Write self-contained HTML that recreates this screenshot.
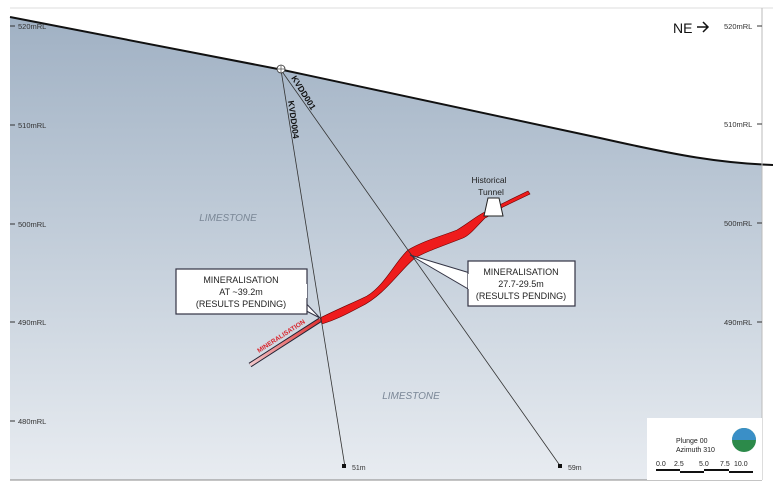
<!DOCTYPE html>
<html><head><style>
body{margin:0;background:#fff;}
svg{display:block;font-family:"Liberation Sans",sans-serif;}
</style></head><body>
<svg width="773" height="488" viewBox="0 0 773 488">
<defs>
<linearGradient id="bg" x1="0" y1="0" x2="0" y2="1">
<stop offset="0" stop-color="#9fb0c3"/>
<stop offset="0.5" stop-color="#c3ceda"/>
<stop offset="1" stop-color="#e8ecf1"/>
</linearGradient>
<linearGradient id="mz" x1="0" y1="0" x2="1" y2="0">
<stop offset="0" stop-color="#f2c9cc"/><stop offset="1" stop-color="#e03030"/>
</linearGradient>
</defs>
<rect x="10" y="8" width="752" height="472" fill="url(#bg)"/>
<path d="M10,17 L283,70 C400,95 520,120 600,138 C680,156 720,163 773,165 L773,0 L10,0 Z" fill="#fff"/>
<rect x="0" y="0" width="10" height="488" fill="#fff"/>
<rect x="762" y="165" width="11" height="323" fill="#fff"/>
<rect x="0" y="480" width="773" height="8" fill="#fff"/>
<line x1="10" y1="8" x2="773" y2="8" stroke="#ddd"/>
<path d="M10,17 L283,70 C400,95 520,120 600,138 C680,156 720,163 773,165" fill="none" stroke="#111" stroke-width="2"/>
<line x1="10" y1="480" x2="762" y2="480" stroke="#888"/>
<line x1="762" y1="8" x2="762" y2="480" stroke="#bbb"/>
<g font-size="7.5" fill="#333">
<text x="18" y="29">520mRL</text><text x="18" y="128">510mRL</text><text x="18" y="227">500mRL</text><text x="18" y="325">490mRL</text><text x="18" y="424">480mRL</text>
<text x="724" y="29">520mRL</text><text x="724" y="127">510mRL</text><text x="724" y="226">500mRL</text><text x="724" y="325">490mRL</text>
</g>
<g stroke="#333"><line x1="10" y1="26" x2="15" y2="26"/><line x1="10" y1="125" x2="15" y2="125"/><line x1="10" y1="224" x2="15" y2="224"/><line x1="10" y1="322" x2="15" y2="322"/><line x1="10" y1="421" x2="15" y2="421"/>
<line x1="757" y1="26" x2="762" y2="26"/><line x1="757" y1="124" x2="762" y2="124"/><line x1="757" y1="223" x2="762" y2="223"/><line x1="757" y1="322" x2="762" y2="322"/></g>
<text x="673" y="33" font-size="14" fill="#111">NE</text>
<path d="M697,27 H708 M703,22 L708,27 L703,32" stroke="#111" stroke-width="1.5" fill="none"/>
<text x="228" y="221" font-size="10" font-style="italic" fill="#7a8796" text-anchor="middle">LIMESTONE</text>
<text x="411" y="399" font-size="10" font-style="italic" fill="#7a8796" text-anchor="middle">LIMESTONE</text>
<path d="M250,365 L320,320" stroke="#223" stroke-width="5"/>
<path d="M250,365 L320,320" stroke="url(#mz)" stroke-width="3"/>
<path d="M320,318 C340,308 355,302 367,296 C385,285 395,262 408,250 C425,240 445,235 457,230 C470,222 478,215 485,212 L528,191 L530,194 L503,207 C495,212 490,216 485,218 C475,228 470,235 463,238 C440,247 425,252 415,258 C400,270 385,295 360,307 C345,315 335,320 322,324 Z" fill="#ee1c1c" stroke="#600" stroke-width="0.6"/>
<text transform="translate(259,353) rotate(-33)" font-size="6.5" font-weight="bold" fill="#d9262e">MINERALISATION</text>
<path d="M488,198 L499,198 L503,216 L484,216 Z" fill="#fff" stroke="#222"/>
<text x="489" y="183" font-size="8.5" fill="#222" text-anchor="middle">Historical</text>
<text x="491" y="195" font-size="8.5" fill="#222" text-anchor="middle">Tunnel</text>
<line x1="281" y1="70" x2="345" y2="467" stroke="#333" stroke-width="0.8"/>
<line x1="281" y1="70" x2="561" y2="467" stroke="#333" stroke-width="0.8"/>
<circle cx="281" cy="69" r="4" fill="#fff" stroke="#333" stroke-width="0.8"/>
<line x1="277" y1="69" x2="285" y2="69" stroke="#333" stroke-width="0.6"/><line x1="281" y1="65" x2="281" y2="73" stroke="#333" stroke-width="0.6"/>
<text transform="translate(291,78) rotate(58)" font-size="8.5" font-weight="bold" fill="#111">KVDD001</text>
<text transform="translate(288,101) rotate(82)" font-size="8.5" font-weight="bold" fill="#111">KVDD004</text>
<rect x="342" y="464" width="4" height="4" fill="#111"/><text x="352" y="470" font-size="7" fill="#333">51m</text>
<rect x="558" y="464" width="4" height="4" fill="#111"/><text x="568" y="470" font-size="7" fill="#333">59m</text>
<path d="M285,300 L320,318 L298,295 Z" fill="#fff" stroke="#334"/>
<rect x="176" y="269" width="131" height="45" fill="#fff" stroke="#334" stroke-width="1.2"/>
<path d="M470,273 L410,255 L470,290 Z" fill="#fff" stroke="#334"/>
<rect x="468" y="261" width="107" height="45" fill="#fff" stroke="#334" stroke-width="1.2"/>
<path d="M469,274 L469,289" stroke="#fff" stroke-width="2"/>
<path d="M306,284 L306,298" stroke="#fff" stroke-width="2"/>
<g font-size="9" fill="#222" text-anchor="middle">
<text x="241" y="283">MINERALISATION</text><text x="241" y="295">AT ~39.2m</text><text x="241" y="307">(RESULTS PENDING)</text>
<text x="521" y="275">MINERALISATION</text><text x="521" y="287">27.7-29.5m</text><text x="521" y="299">(RESULTS PENDING)</text>
</g>
<rect x="647" y="418" width="115" height="62" fill="#fff"/>
<text x="676" y="443" font-size="7" fill="#222">Plunge 00</text>
<text x="676" y="452" font-size="7" fill="#222">Azimuth 310</text>
<g font-size="7" fill="#222"><text x="656" y="466">0.0</text><text x="674" y="466">2.5</text><text x="699" y="466">5.0</text><text x="720" y="466">7.5</text><text x="734" y="466">10.0</text></g>
<path d="M656,470 H680 M680,472 H704 M704,470 H729 M729,472 H753" stroke="#111" stroke-width="2"/>
<circle cx="744" cy="440" r="12" fill="#2c8a4a"/>
<path d="M732,440 A12,12 0 0 1 756,440 Z" fill="#3a8fc7"/>
</svg>
</body></html>
